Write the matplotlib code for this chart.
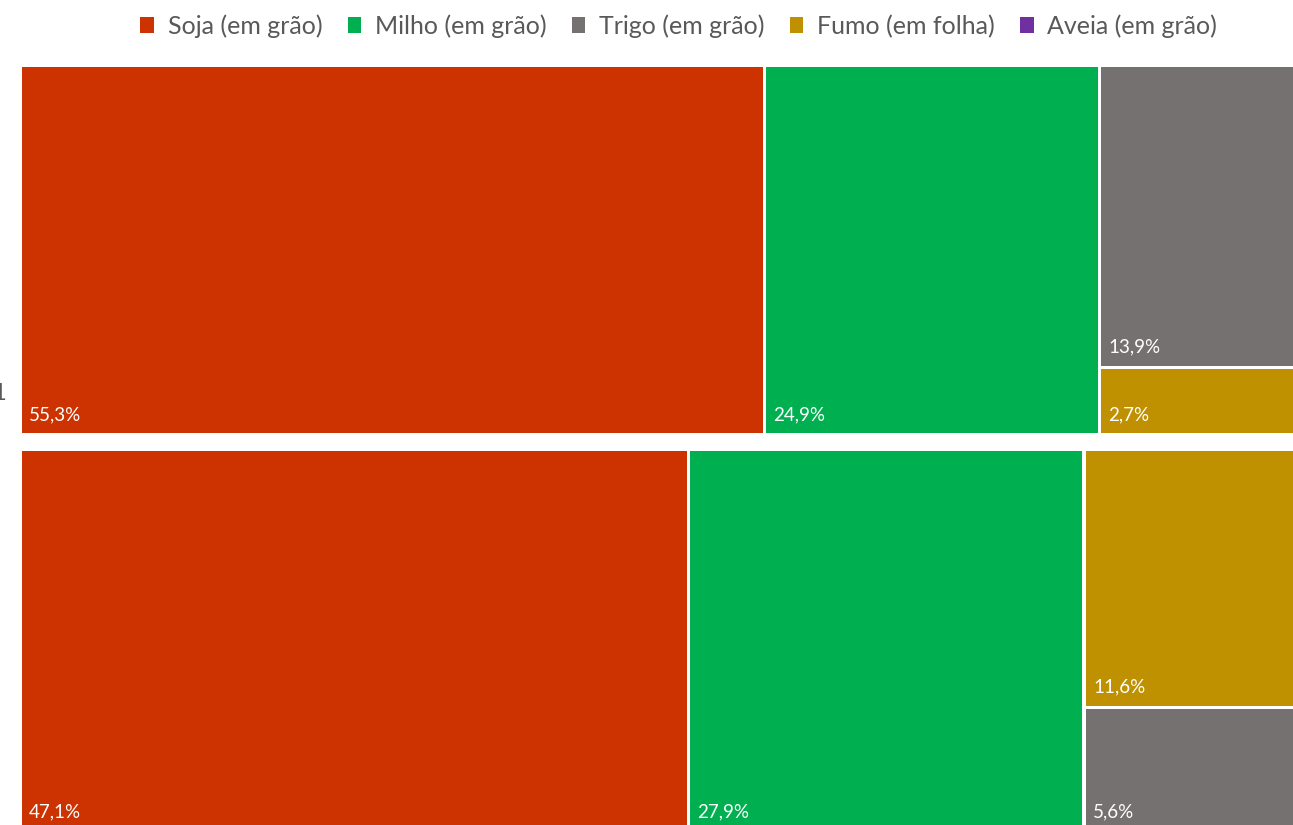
import matplotlib.pyplot as plt
from matplotlib.patches import Rectangle

# Categories and shares (%) for the two groups of the treemap
categories = ['Soja (em grão)', 'Milho (em grão)', 'Trigo (em grão)',
              'Fumo (em folha)', 'Aveia (em grão)']
colors = ['#CC3300', '#00B050', '#767171', '#BF9000', '#7030A0']

group_top = [55.3, 24.9, 13.9, 2.7, 0.4]     # Aveia estimated (off the picture)
group_bottom = [47.1, 27.9, 5.6, 11.6, 0.0]

plt.rcParams['font.family'] = ['Lato', 'DejaVu Sans']

# band extents in pixel units (the chart runs past the right / bottom edge)
X0, X1 = 20, 1328
bands = [(65, 435), (449, 832)]
GAP = 3.2
FIG_W = 1293


def layout(values):
    """Simple treemap: two biggest as columns, the rest in a third column."""
    items = sorted([(v, i) for i, v in enumerate(values) if v > 0], reverse=True)
    total = sum(v for v, _ in items)
    cells = []
    x = 0.0
    for v, i in items[:2]:
        w = v / total
        cells.append((i, x, 0.0, w, 1.0))
        x += w
    rest = items[2:]
    rest_sum = sum(v for v, _ in rest)
    w = rest_sum / total
    h_top = rest[0][0] / rest_sum
    cells.append((rest[0][1], x, 0.0, w, h_top))
    sub = rest[1:]
    sub_sum = sum(v for v, _ in sub)
    sx = x
    for v, i in sub:
        sw = w * v / sub_sum
        cells.append((i, sx, h_top, sw, 1.0 - h_top))
        sx += sw
    return cells


fig = plt.figure(figsize=(12.93, 8.25), dpi=100)
ax = fig.add_axes([0, 0, 1, 1])
ax.set_xlim(0, FIG_W)
ax.set_ylim(825, 0)
ax.axis('off')

for values, (y0, y1) in zip([group_top, group_bottom], bands):
    W = X1 - X0
    H = y1 - y0
    for i, fx, fy, fw, fh in layout(values):
        x = X0 + fx * W
        y = y0 + fy * H
        w = fw * W
        h = fh * H
        ax.add_patch(Rectangle((x + GAP / 2, y + GAP / 2), w - GAP, h - GAP,
                               facecolor=colors[i], edgecolor='none'))
        if x + 60 > FIG_W:
            continue  # label lies outside the visible picture
        label = f"{values[i]:.1f}%".replace('.', ',')
        ax.text(x + 9, y + h - 15, label, color='white', fontsize=13.5,
                ha='left', va='baseline', clip_on=True)

# partially visible group label at the left edge
ax.text(6, 393, '1', color='#595959', fontsize=17, ha='right', va='center')

handles = [Rectangle((0, 0), 1, 1, facecolor=c, edgecolor='none') for c in colors]
fig.legend(handles, categories, loc='upper center', bbox_to_anchor=(0.525, 1.01),
           ncol=5, frameon=False, fontsize=18, labelcolor='#595959',
           handlelength=0.55, handleheight=0.55, handletextpad=0.55, columnspacing=1.0)

fig.savefig('out.png', dpi=100)
